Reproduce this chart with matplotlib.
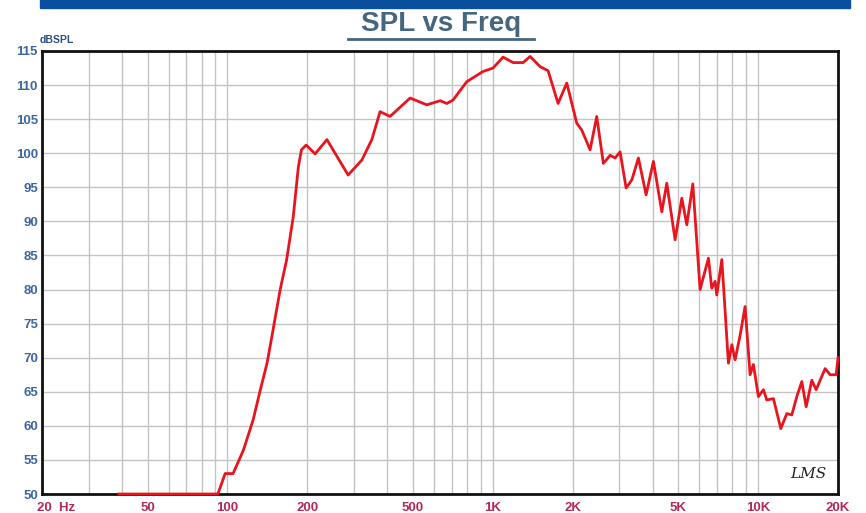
import matplotlib.pyplot as plt
import matplotlib.transforms as mtransforms
from matplotlib.ticker import FixedLocator, NullFormatter
import numpy as np

plt.rcParams['font.family'] = ['Liberation Sans', 'DejaVu Sans']

# frequency response
freq = [39, 60, 80, 92, 98, 105, 115, 125, 133, 141, 147, 158, 167, 177, 185, 190, 198,
        214, 237, 285, 321, 350, 376, 410, 488, 564, 633, 671, 708, 798, 919, 1002,
        1093, 1193, 1301, 1382, 1508, 1616, 1762, 1900, 2072, 2164, 2326, 2464, 2610,
        2768, 2890, 3018, 3180, 3342, 3538, 3782, 4030, 4334, 4526, 4864, 5156, 5384,
        5672, 6042, 6496, 6684, 6884, 6984, 7296, 7726, 7958, 8188, 8552, 8928, 9326,
        9596, 10020, 10468, 10780, 11416, 12174, 12824, 13392, 13986, 14606, 15166,
        15936, 16538, 17884, 18676, 19672, 20000]
spl = [50, 50, 50, 50, 53, 53, 56.5, 60.9, 65.3, 69.2, 73.1, 80, 84.3, 90.7, 98, 100.5, 101.2,
       99.9, 102, 96.8, 99, 102, 106.1, 105.4, 108.1, 107.1, 107.7, 107.3, 107.8, 110.5, 112, 112.5,
       114.1, 113.3, 113.3, 114.2, 112.7, 112.1, 107.3, 110.3, 104.4, 103.4, 100.5, 105.4, 98.5,
       99.7, 99.3, 100.2, 94.9, 96.1, 99.3, 93.9, 98.8, 91.4, 95.6, 87.3, 93.4, 89.5,
       95.5, 80, 84.6, 80.2, 81.2, 79.2, 84.4, 69.2, 71.9, 69.7, 73.3, 77.5, 67.5,
       69, 64.3, 65.3, 63.8, 64, 59.6, 61.8, 61.6, 64.3, 66.5, 62.8,
       66.7, 65.3, 68.4, 67.5, 67.5, 70]

xticks = [20, 50, 100, 200, 500, 1000, 2000, 5000, 10000, 20000]
xlabels = ['20  Hz', '50', '100', '200', '500', '1K', '2K', '5K', '10K', '20K']
yticks = list(range(50, 116, 5))

fig = plt.figure(figsize=(8.66, 5.13), dpi=100)
ax = fig.add_axes([0.0485, 0.037, 0.9192, 0.8636])

ax.plot(freq, spl, color='#e8141e', linewidth=2, zorder=3, clip_on=False)

ax.set_xscale('log')
ax.set_xlim(20, 20000)
ax.set_ylim(50, 115)

grid_f = [m * 10 ** e for e in range(1, 5) for m in range(1, 10) if 20 <= m * 10 ** e <= 20000]
ax.xaxis.set_major_locator(FixedLocator(xticks))
ax.xaxis.set_minor_locator(FixedLocator(grid_f))
ax.xaxis.set_minor_formatter(NullFormatter())
ax.set_xticklabels(xlabels)
ax.set_yticks(yticks)
ax.grid(True, which='both', color='#c4c4c4', linewidth=1)
ax.tick_params(axis='both', which='both', length=0)
ax.tick_params(axis='x', colors='#b02a5a', labelsize=9.5, pad=6)
ax.tick_params(axis='y', colors='#3b66a0', labelsize=9.5, pad=3)
for lab in ax.get_xticklabels() + ax.get_yticklabels():
    lab.set_fontweight('bold')

# "20 Hz" sits to the right of its tick, like the original
first = ax.get_xticklabels()[0]
first.set_horizontalalignment('left')
first.set_transform(first.get_transform() + mtransforms.ScaledTranslation(-5 / 100, 0, fig.dpi_scale_trans))

for s in ax.spines.values():
    s.set_linewidth(2)
    s.set_color('#111111')

# header
fig.patches.append(plt.Rectangle((40 / 866, 1 - 8 / 513), 810 / 866, 8 / 513,
                                 transform=fig.transFigure, color='#0a4f9e'))
fig.text(441 / 866, 1 - 24 / 513, 'SPL vs Freq', ha='center', va='center',
         fontsize=20, fontweight='bold', color='#46667f')
fig.add_artist(plt.Line2D([348 / 866, 534 / 866], [1 - 39 / 513, 1 - 39 / 513],
                          color='#46667f', linewidth=2))
fig.text(40 / 866, 1 - 40 / 513, 'dBSPL', ha='left', va='center',
         fontsize=7.5, fontweight='bold', color='#2d4f80')

ax.text(0.985, 0.03, 'LMS', transform=ax.transAxes, ha='right', va='bottom',
        fontsize=11, fontstyle='italic', family='DejaVu Serif', color='#222222')

fig.savefig('out.png', dpi=100)
